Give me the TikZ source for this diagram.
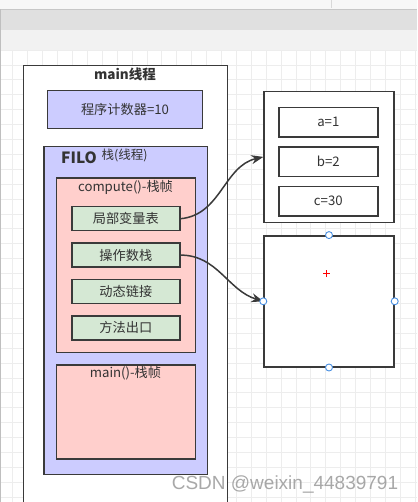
\documentclass[tikz,border=0pt]{standalone}
\usepackage{fontspec}
\setmainfont{Noto Sans CJK SC}
\newfontfamily\markfont{Liberation Sans}
\usepackage{xcolor}
\usetikzlibrary{arrows.meta, positioning}

\definecolor{linegray}{HTML}{3A3A3A}
\definecolor{textgray}{HTML}{333333}
\definecolor{stackblue}{HTML}{CCCCFF}
\definecolor{framepink}{HTML}{FFCFCC}
\definecolor{slotgreen}{HTML}{D5E8D4}
\definecolor{handleblue}{HTML}{4A90E2}
\definecolor{gridgray}{HTML}{EDEDED}

\begin{document}
\begin{tikzpicture}[
    x=1pt, y=-1pt,
    node distance=11pt,
    box/.style={rectangle, draw=linegray, line width=1.4pt, inner sep=0pt, text=textgray, font=\fontsize{13.2}{15}\selectfont},
    plain/.style={box, fill=white},
    lilac/.style={box, fill=stackblue},
    frame/.style={box, fill=framepink},
    slot/.style={box, fill=slotgreen, minimum width=108pt, minimum height=24pt},
    var/.style={box, fill=white, minimum width=99pt, minimum height=29.5pt},
    title/.style={inner sep=0pt, text=textgray, font=\fontsize{13.2}{15}\selectfont},
    handle/.style={circle, draw=handleblue, fill=white, line width=0.9pt, minimum size=7pt, inner sep=0pt},
    link/.style={-{Stealth[length=12pt,width=9pt]}, line width=1.5pt, draw=linegray},
    gridline/.style={draw=gridgray, line width=0.6pt},
    >=Stealth
]
\useasboundingbox (0,0) rectangle (417,502);
\clip (0,0) rectangle (417,502);

% Editor background
\fill[white] (0,0) rectangle (417,502);
\foreach \gx in {0,...,27}
    \draw[gridline] ({12.7+14.9*\gx},50) -- ++(0,460);
\foreach \gy in {0,...,30}
    \draw[gridline] (0,{50+14.9*\gy}) -- ++(417,0);
\fill[black!3] (0,0) rectangle (417,9.5);
\draw[black!15, line width=0.8pt] (331,0) -- (331,8);
\fill[black!12] (0,9.5) rectangle (417,30);
\draw[black!22, line width=0.8pt] (0,9.5) -- (417,9.5) (0,30) -- (417,30);
\fill[black!5] (0,30.4) rectangle (417,50);
\draw[black!25, line width=1pt] (0.5,9.5) -- (0.5,502);

% Thread
\node[plain, minimum width=203.7pt, minimum height=450pt, anchor=north west] (mainthread) at (23,65) {};
\node[title, font=\bfseries\fontsize{13.5}{15}\selectfont] (threadname) at (125,74) {main线程};
\node[lilac, minimum width=155.4pt, minimum height=37.6pt] (pc) at (125,109.5) {程序计数器=10};

% Stack
\node[lilac, minimum width=163.4pt, minimum height=328pt, anchor=north west] (stack) at (43.3,146) {};
\node[title, font=\bfseries\fontsize{15.5}{17}\selectfont, text=black!80] (filo) at (79,157.5) {FILO};
\node[title, font=\fontsize{12.5}{14}\selectfont] (stackname) at (124.5,155) {栈(线程)};

% Frames
\node[frame, minimum width=139pt, minimum height=174.4pt, anchor=north west] (compute) at (56,177.3) {};
\node[title] (computename) at (125.5,187) {compute()-栈帧};
\node[slot] (locals) at (125.8,218.7) {局部变量表};
\node[slot, below=of locals] (operands) {操作数栈};
\node[slot, below=of operands] (dynlink) {动态链接};
\node[slot, below=of dynlink] (retaddr) {方法出口};

\node[frame, minimum width=139pt, minimum height=94pt, anchor=north west] (mainframe) at (56,364.3) {};
\node[title] (mainframename) at (125.5,373) {main()-栈帧};

% Heap side
\node[plain, minimum width=130pt, minimum height=131pt, anchor=north west] (heap) at (263.3,90.7) {};
\node[var] (vara) at (328.3,122.3) {a=1};
\node[var, below=8.5pt of vara] (varb) {b=2};
\node[var, below=8.5pt of varb] (varc) {c=30};
\node[plain, minimum width=130pt, minimum height=131pt, below=12pt of heap] (target) {};

% Links
\draw[link] (locals.east) to[out=5, in=193] (heap.west);
\draw[link] (operands.east) to[out=0, in=163] (target.west);

% Selection handles
\node[handle] (hn) at (target.north) {};
\node[handle] (hw) at (target.west) {};
\node[handle] (he) at (target.east) {};
\node[handle] (hs) at (target.south) {};
\coordinate (pin) at (326.5,273.5);
\draw[red, line width=1pt] ([xshift=-3.5pt]pin) -- ([xshift=3.5pt]pin)
    ([yshift=-3.5pt]pin) -- ([yshift=3.5pt]pin);

% Watermark
\node[font=\markfont\fontsize{19}{21}\selectfont, text=black!40, opacity=0.85] (mark) at (285,484) {CSDN @weixin\_44839791};
\end{tikzpicture}
\end{document}
